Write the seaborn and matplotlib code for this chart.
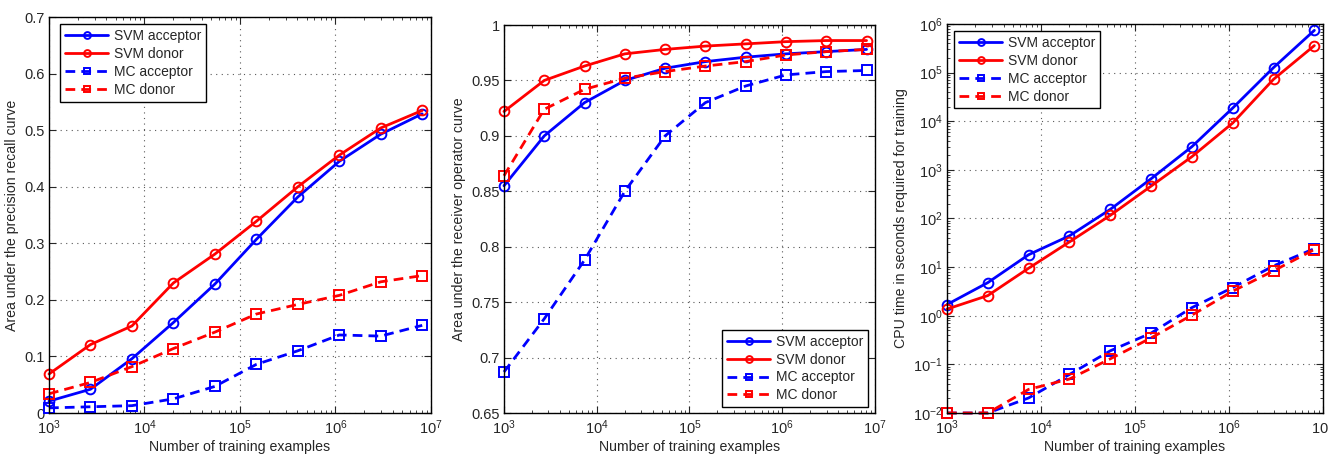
import numpy as np
import pandas as pd
import matplotlib
matplotlib.use('Agg')
import matplotlib.pyplot as plt
from matplotlib.ticker import FuncFormatter, LogLocator, NullFormatter
import seaborn as sns

# training set sizes (x axis, shared by all panels)
n_train = [1000, 2718, 7389, 20086, 54598, 148413, 403429, 1096633, 2980958, 8103084]
series = ['SVM acceptor', 'SVM donor', 'MC acceptor', 'MC donor']

# panel 1: area under precision recall curve
auprc_svm_acc = [0.021, 0.042, 0.096, 0.160, 0.228, 0.307, 0.382, 0.445, 0.493, 0.529]
auprc_svm_don = [0.069, 0.121, 0.154, 0.230, 0.281, 0.339, 0.400, 0.456, 0.504, 0.535]
auprc_mc_acc = [0.009, 0.011, 0.013, 0.025, 0.047, 0.086, 0.110, 0.138, 0.136, 0.155]
auprc_mc_don = [0.034, 0.054, 0.082, 0.114, 0.143, 0.175, 0.192, 0.208, 0.232, 0.243]

# panel 2: area under ROC curve
auroc_svm_acc = [0.855, 0.900, 0.930, 0.950, 0.961, 0.967, 0.971, 0.974, 0.976, 0.978]
auroc_svm_don = [0.922, 0.950, 0.963, 0.974, 0.978, 0.981, 0.983, 0.985, 0.986, 0.986]
auroc_mc_acc = [0.687, 0.735, 0.788, 0.850, 0.900, 0.930, 0.945, 0.955, 0.958, 0.959]
auroc_mc_don = [0.864, 0.924, 0.942, 0.952, 0.958, 0.963, 0.967, 0.973, 0.976, 0.978]

# panel 3: CPU time (seconds)
cpu_svm_acc = [1.7, 4.8, 18, 44, 154, 656, 3000, 18700, 127000, 740000]
cpu_svm_don = [1.37, 2.6, 9.5, 33, 116, 463, 1870, 9200, 73000, 360000]
cpu_mc_acc = [0.01, 0.01, 0.0204, 0.062, 0.19, 0.44, 1.47, 3.8, 10.6, 24]
cpu_mc_don = [0.01, 0.01, 0.0306, 0.05, 0.13, 0.35, 1.03, 3.2, 8.4, 23]

sns.set_style('ticks')
plt.rcParams['font.family'] = ['Liberation Sans', 'DejaVu Sans']
plt.rcParams['mathtext.default'] = 'regular'
plt.rcParams['xtick.direction'] = 'in'
plt.rcParams['ytick.direction'] = 'in'
plt.rcParams['xtick.top'] = True
plt.rcParams['ytick.right'] = True

cores = {'SVM acceptor': '#0000ff', 'SVM donor': '#ff0000', 'MC acceptor': '#0000ff', 'MC donor': '#ff0000'}
marcadores = {'SVM acceptor': 'o', 'SVM donor': 'o', 'MC acceptor': 's', 'MC donor': 's'}
estilos = {'SVM acceptor': '-', 'SVM donor': '-', 'MC acceptor': (0, (3.5, 2.2)), 'MC donor': (0, (3.5, 2.2))}


def monta_df(valores):
    return pd.DataFrame({
        'n': n_train * 4,
        'valor': sum(valores, []),
        'serie': np.repeat(series, len(n_train)),
    })


fig = plt.figure(figsize=(13.28, 4.55), dpi=100)
ax1 = fig.add_axes([0.0369, 0.0923, 0.2876, 0.870])
ax2 = fig.add_axes([0.3795, 0.0923, 0.2794, 0.8527])
ax3 = fig.add_axes([0.7131, 0.0923, 0.2831, 0.855])

paineis = [
    (ax1, monta_df([auprc_svm_acc, auprc_svm_don, auprc_mc_acc, auprc_mc_don]),
     'Area under the precision recall curve'),
    (ax2, monta_df([auroc_svm_acc, auroc_svm_don, auroc_mc_acc, auroc_mc_don]),
     'Area under the receiver operator curve'),
    (ax3, monta_df([cpu_svm_acc, cpu_svm_don, cpu_mc_acc, cpu_mc_don]),
     'CPU time in seconds required for training'),
]

for ax, df, ylabel in paineis:
    ax.set_xscale('log')
    for s in series:
        sns.lineplot(data=df[df['serie'] == s], x='n', y='valor', ax=ax, label=s,
                     color=cores[s], linestyle=estilos[s], marker=marcadores[s],
                     markersize=7, mfc='none', mec=cores[s], mew=1.4, lw=2, clip_on=False)
    ax.set_xlim(1e3, 1e7)
    ax.set_xlabel('Number of training examples', fontsize=10.2, labelpad=2)
    ax.set_ylabel(ylabel, fontsize=10.2, labelpad=4)
    ax.grid(True, which='major', linestyle=(0, (1, 4)), color='0.35', lw=0.8)
    ax.tick_params(which='major', length=5, width=0.8, labelsize=10.5, pad=3)
    ax.tick_params(axis='x', which='major', pad=4)
    ax.tick_params(which='minor', length=2.5, width=0.6)
    for sp in ax.spines.values():
        sp.set_linewidth(1.0)
        sp.set_color('black')

ax1.set_ylim(0, 0.7)
ax1.set_yticks(np.arange(0, 0.71, 0.1))
ax1.yaxis.set_major_formatter(FuncFormatter(lambda v, p: '%g' % round(v, 2)))

ax2.set_ylim(0.65, 1.0)
ax2.set_yticks(np.arange(0.65, 1.001, 0.05))
ax2.yaxis.set_major_formatter(FuncFormatter(lambda v, p: '%g' % round(v, 2)))

ax3.set_yscale('log')
ax3.set_ylim(1e-2, 1e6)
ax3.yaxis.set_major_locator(LogLocator(base=10, numticks=20))
ax3.yaxis.set_minor_locator(LogLocator(base=10, subs=np.arange(2, 10), numticks=20))
ax3.yaxis.set_minor_formatter(NullFormatter())

leg_kw = dict(fontsize=10, frameon=True, fancybox=False, edgecolor='black',
              framealpha=1, handlelength=3.1, handletextpad=0.4, labelspacing=0.28,
              borderpad=0.35, borderaxespad=0, markerscale=0.7)
l1 = ax1.legend(loc='upper left', bbox_to_anchor=(0.03, 0.982), **leg_kw)
l2 = ax2.legend(loc='lower right', bbox_to_anchor=(0.981, 0.015), **leg_kw)
l3 = ax3.legend(loc='upper left', bbox_to_anchor=(0.019, 0.982), **leg_kw)
for lg in (l1, l2, l3):
    lg.get_frame().set_linewidth(1.0)

plt.savefig('out.png', dpi=100)
